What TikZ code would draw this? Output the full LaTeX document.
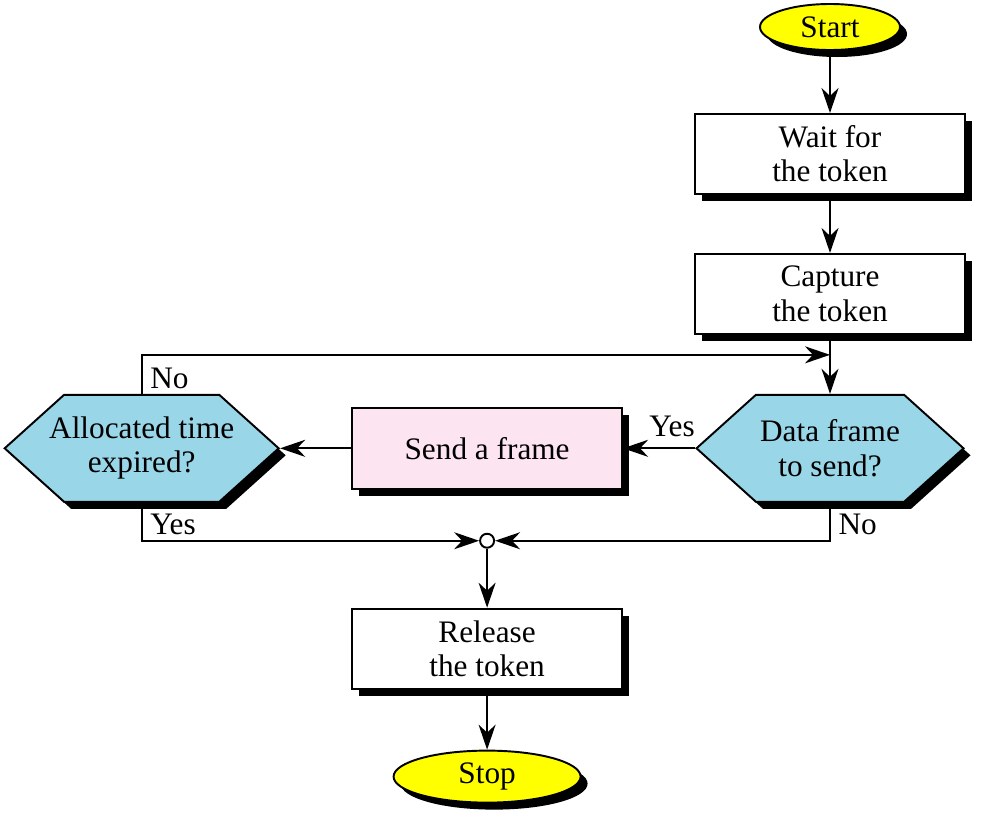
\documentclass[tikz,border=0pt]{standalone}
\usepackage{fontspec}
\setmainfont{Liberation Serif}
\usetikzlibrary{shapes.symbols, shapes.geometric, arrows.meta, positioning, shadows}

\definecolor{startyellow}{HTML}{FFFF00}
\definecolor{askblue}{HTML}{99D6E8}
\definecolor{sendpink}{HTML}{FCE4F1}

\begin{document}
\begin{tikzpicture}[
        font=\fontsize{17.8}{19.5}\selectfont,
        line width=1.1pt,
        shade box/.style={drop shadow={shadow xshift=0.14cm, shadow yshift=-0.14cm, fill=black, opacity=1}},
        terminal/.style={ellipse, draw, fill=startyellow, shade box, inner sep=0pt},
        stepbox/.style={rectangle, draw, fill=white, shade box, minimum width=5.4cm, minimum height=1.6cm, align=center},
        question/.style={signal, signal to=west and east, signal pointer angle=84, draw, fill=askblue, shade box, minimum width=5.34cm, minimum height=2.14cm, align=center, inner xsep=-1.2cm, inner ysep=0pt},
        flow/.style={-{Stealth[length=5mm, width=3.4mm, inset=1.6mm]}}
    ]
    \useasboundingbox (0,0) rectangle (19.64,-16.36);

    % Coluna principal
    \node[terminal, minimum width=2.8cm, minimum height=0.92cm] (start) at (16.6,-0.54) {Start};
    \node[stepbox, below=1.24cm of start] (wait) {Wait for\\the token};
    \node[stepbox, below=1.16cm of wait] (capture) {Capture\\the token};
    \coordinate[below=0.4cm of capture] (merge);
    \node[question, below=1.18cm of capture] (data) {Data frame\\to send?};

    % Linha do meio
    \node[stepbox, fill=sendpink, minimum height=1.62cm, left=1.44cm of data] (send) {Send a frame};
    \node[question, minimum width=5.48cm, left=1.42cm of send] (alloc) {Allocated time\\expired?};

    % Parte de baixo
    \node[circle, draw, fill=white, inner sep=0pt, minimum size=0.28cm, below=0.86cm of send] (junc) {};
    \node[stepbox, below=1.18cm of junc] (release) {Release\\the token};
    \node[terminal, minimum width=3.74cm, minimum height=1.04cm, below=1.2cm of release] (stop) {Stop};

    % Setas
    \draw[flow] (start) -- (wait);
    \draw[flow] (wait) -- (capture);
    \draw[flow] (capture) -- (data);
    \draw[flow] (alloc.north) |- (merge) node[pos=0.2, right=1pt]{No};
    \draw[flow] (data.west) -- (send.east) node[pos=0.32, above=2.5pt]{Yes};
    \draw[flow] (send.west) -- (alloc.east);
    \draw[flow] (alloc.south) |- (junc.west) node[pos=0.28, right=1pt]{Yes};
    \draw[flow] (data.south) |- (junc.east) node[pos=0.28, right=1pt]{No};
    \draw[flow] (junc) -- (release);
    \draw[flow] (release) -- (stop);
\end{tikzpicture}
\end{document}
